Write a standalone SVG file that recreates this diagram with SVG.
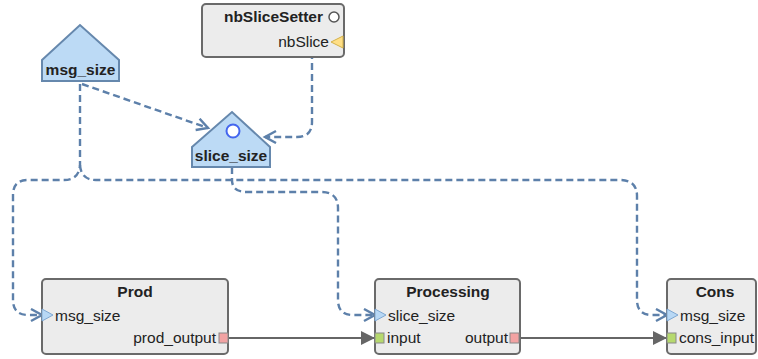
<svg xmlns="http://www.w3.org/2000/svg" width="758" height="359" viewBox="0 0 758 359">
<defs>
<style>
.box{fill:#ececec;stroke:#6a6a6a;stroke-width:2}
.house{fill:#bcdaf5;stroke:#6688ad;stroke-width:2}
.title{font-family:"Liberation Sans",Arial,sans-serif;font-weight:bold;font-size:15.5px;fill:#222}
.lbl{font-family:"Liberation Sans",Arial,sans-serif;font-size:15.5px;fill:#222}
.dash{fill:none;stroke:#5d80aa;stroke-width:2.4;stroke-dasharray:7,4}
.solid{fill:none;stroke:#666;stroke-width:2}
.pin{fill:#b8d8f5;stroke:#7ea7d2;stroke-width:1}
.pout{fill:#f2a3a3;stroke:#888;stroke-width:1}
.pinD{fill:#b6d96e;stroke:#888;stroke-width:1}
</style>
<marker id="chev" markerUnits="userSpaceOnUse" markerWidth="16" markerHeight="16" refX="12" refY="7" orient="auto">
<path d="M1,1 L12,7 L1,13" fill="none" stroke="#5d80aa" stroke-width="2.4"/>
</marker>
<marker id="tri" markerUnits="userSpaceOnUse" markerWidth="16" markerHeight="14" refX="14" refY="7" orient="auto">
<path d="M0,0 L14,7 L0,14 Z" fill="#666"/>
</marker>
</defs>

<g id="connectors">
<path class="dash" d="M82,84 L208,128" marker-end="url(#chev)"/>
<path class="dash" d="M312,52 L312,122 Q312,137 297,137 L265,137" marker-end="url(#chev)"/>
<path class="dash" d="M80,84 L80,165 Q79,180 64,180 L28,180 Q13,180 13,195 L13,300 Q13,315 28,315 L42,315" marker-end="url(#chev)"/>
<path class="dash" d="M80,165 Q81,180 96,180 L620,180 Q637,180 637,196 L637,300 Q637,315 652,315 L667,315" marker-end="url(#chev)"/>
<path class="dash" d="M232,167 L232,180 Q232,192 247,192 L321,192 Q338,192 338,208 L338,300 Q338,315 353,315 L375,315" marker-end="url(#chev)"/>
<path class="solid" d="M228,338 L375,338" marker-end="url(#tri)"/>
<path class="solid" d="M520,338 L667,338" marker-end="url(#tri)"/>
</g>

<g id="msg_size">
<path class="house" d="M42,60 L80,25 L119,60 L119,81 L42,81 Z"/>
<text class="title" x="80.5" y="75" text-anchor="middle">msg_size</text>
</g>

<g id="slice_size">
<path class="house" d="M192,147 L232,112 L270,147 L270,167 L192,167 Z"/>
<circle cx="233" cy="131" r="6.5" fill="#fff" stroke="#4466ee" stroke-width="2"/>
<text class="title" x="231" y="161" text-anchor="middle">slice_size</text>
</g>

<g id="nbSliceSetter">
<rect class="box" x="202" y="4" width="142" height="53" rx="4"/>
<text class="title" x="323" y="22" text-anchor="end">nbSliceSetter</text>
<circle cx="334" cy="17" r="5" fill="#fff" stroke="#555" stroke-width="1.5"/>
<text class="lbl" x="329" y="47" text-anchor="end">nbSlice</text>
<path d="M331,42 L343,36 L343,48 Z" fill="#ffdf86" stroke="#d4b24a" stroke-width="1"/>
</g>

<g id="Prod">
<rect class="box" x="42" y="279" width="186" height="75" rx="4"/>
<text class="title" x="135" y="297" text-anchor="middle">Prod</text>
<path class="pin" d="M42,309 L53,315 L42,321 Z"/>
<text class="lbl" x="55" y="321">msg_size</text>
<text class="lbl" x="216" y="343" text-anchor="end">prod_output</text>
<rect class="pout" x="219" y="333" width="9" height="10"/>
</g>

<g id="Processing">
<rect class="box" x="375" y="279" width="145" height="75" rx="4"/>
<text class="title" x="448" y="297" text-anchor="middle">Processing</text>
<path class="pin" d="M375,309 L386,315 L375,321 Z"/>
<text class="lbl" x="388" y="321">slice_size</text>
<rect class="pinD" x="375" y="333" width="9" height="10"/>
<text class="lbl" x="387" y="343">input</text>
<text class="lbl" x="508" y="343" text-anchor="end">output</text>
<rect class="pout" x="510" y="333" width="9" height="10"/>
</g>

<g id="Cons">
<rect class="box" x="667" y="279" width="89" height="75" rx="4"/>
<text class="title" x="715" y="297" text-anchor="middle">Cons</text>
<path class="pin" d="M667,309 L678,315 L667,321 Z"/>
<text class="lbl" x="680" y="321">msg_size</text>
<rect class="pinD" x="667" y="333" width="9" height="10"/>
<text class="lbl" x="679" y="343">cons_input</text>
</g>
</svg>
